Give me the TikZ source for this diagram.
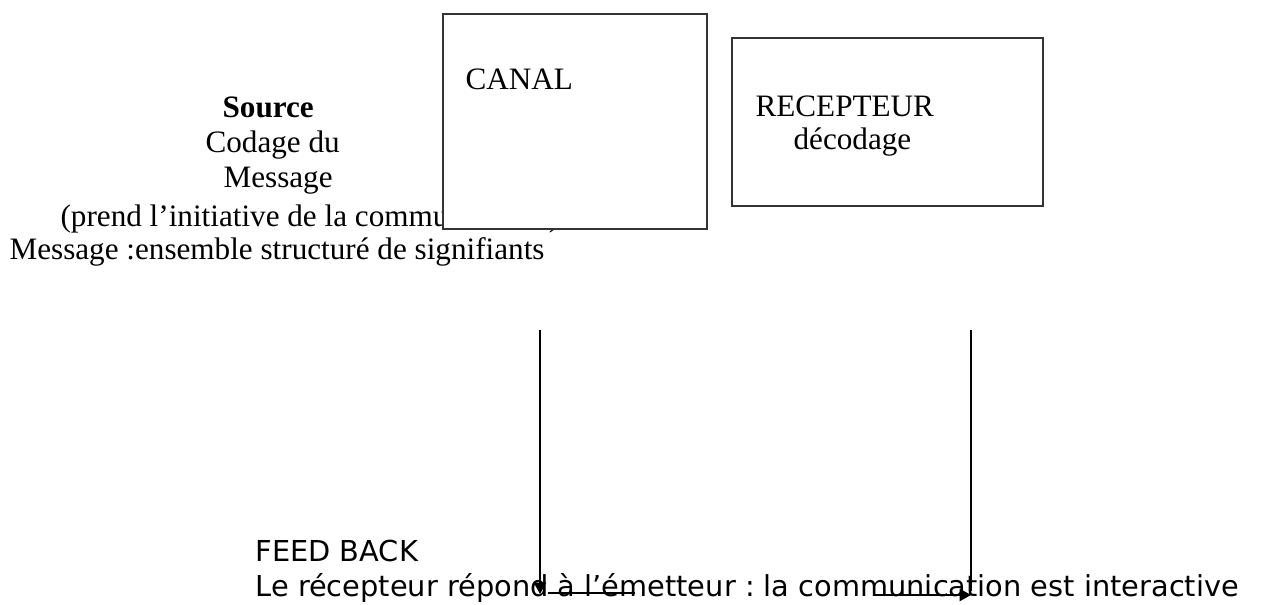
\documentclass[tikz,border=0pt]{standalone}
\usepackage{fontspec}
\setmainfont{Liberation Serif}
\newfontfamily\dejavu{DejaVu Sans}
\usetikzlibrary{arrows.meta}
\frenchspacing

\tikzset{every picture/.style={line width=0.45pt}}
\tikzset{
  serif/.style={font=\fontsize{12}{14}\selectfont, inner sep=0pt, anchor=base west},
  sans/.style={font=\dejavu\fontsize{11.1}{13}\selectfont, inner sep=0pt, anchor=base west},
  boite/.style={draw=black!80, fill=white},
  pointe/.style={-{Triangle[length=4.4pt,width=4.8pt]}}
}

\begin{document}
\begin{tikzpicture}[x=0.385pt,y=0.385pt,yscale=-1,xscale=1]
\useasboundingbox (0,0) rectangle (1267,605);

% Text Node
\node [serif] (source) at (222,118) {\textbf{Source}};
% Text Node
\node [serif] (codage) at (205,153) {Codage du};
% Text Node
\node [serif] (message) at (223,188) {Message};
% Text Node
\node [serif] (initiative) at (60,227) {(prend l’initiative de la communication)};
% Text Node
\node [serif] (ensemble) at (9,260) {Message :ensemble structuré de signifiants};

%Shape: Rectangle [canal]
\coordinate (canalA) at (443,14);
\coordinate (canalB) at (707,229);
\draw [boite] (canalA) rectangle (canalB);
%Shape: Rectangle [recepteur]
\coordinate (recA) at (732,38);
\coordinate (recB) at (1043,206);
\draw [boite] (recA) rectangle (recB);

% Text Node
\node [serif] (canal) at (465,90) {CANAL};
% Text Node
\node [serif] (recepteur) at (755,117) {RECEPTEUR};
% Text Node
\node [serif] (decodage) at (793,150) {décodage};

% Text Node
\node [sans] (feedback) at (255,561) {FEED BACK};
% Text Node
\node [sans] (reponse) at (255,597) {Le récepteur répond à l’émetteur : la communication est interactive};

%Straight Lines [gauche]
\coordinate (g1) at (540,330);
\coordinate (g2) at (540,594);
\draw [pointe] (g1) -- (g2);
\coordinate (g3) at (548,593);
\coordinate (g4) at (635,593);
\draw (g3) -- (g4);
%Straight Lines [droite]
\coordinate (d1) at (971,330);
\coordinate (d2) at (971,591);
\draw (d1) -- (d2);
\coordinate (d3) at (873,595);
\coordinate (d4) at (971,595);
\draw [pointe] (d3) -- (d4);

\end{tikzpicture}
\end{document}
